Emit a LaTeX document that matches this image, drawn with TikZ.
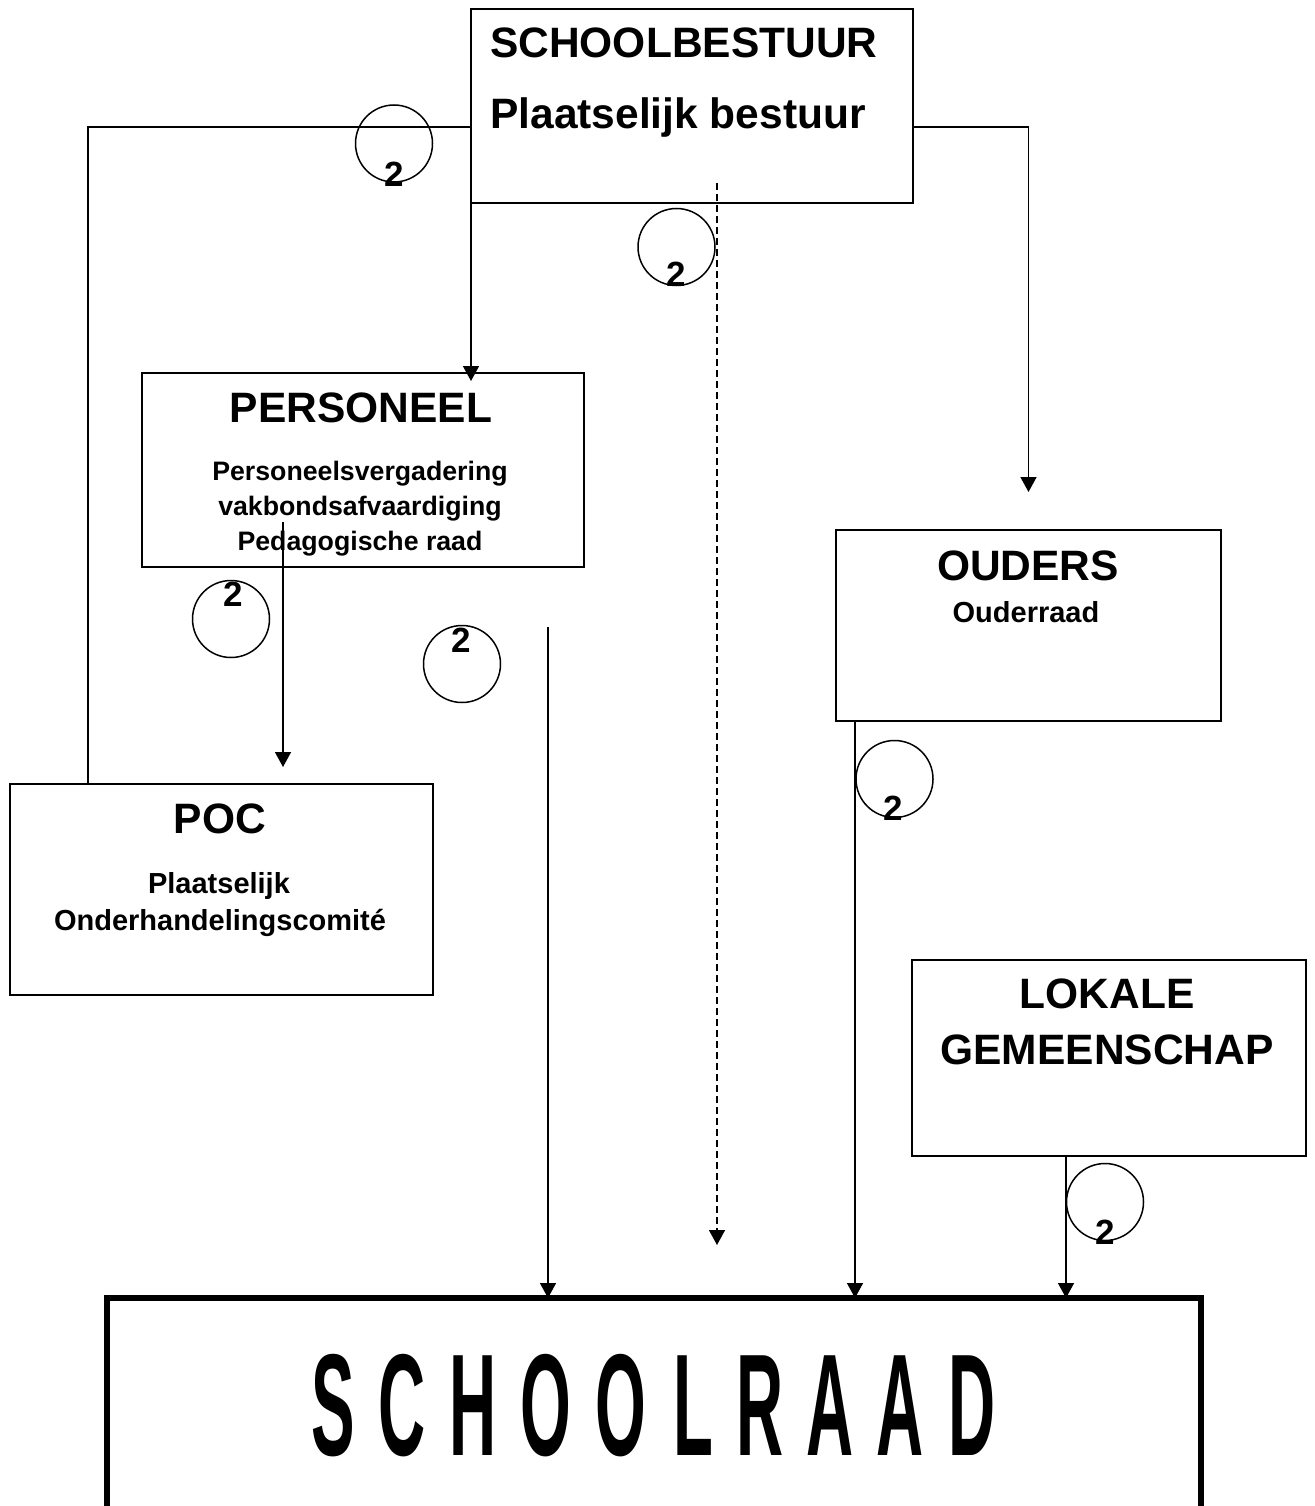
\documentclass[tikz,border=0pt]{standalone}
\usepackage{fontspec}
\setmainfont{Liberation Sans}
\usetikzlibrary{arrows.meta,calc}
\begin{document}
\begin{tikzpicture}[x=1pt,y=-1pt,
  box/.style={draw,line width=1.5pt,rectangle,inner sep=0pt,outer sep=0pt},
  ln/.style={line width=1.5pt},
  arr/.style={line width=1.5pt,-{Triangle[width=16pt,length=15pt]}},
  ring/.style={draw,line width=1.5pt,circle,minimum size=77pt,inner sep=0pt,outer sep=0pt},
  big/.style={font=\fontsize{42.5}{48}\selectfont\bfseries,anchor=base,inner sep=0pt},
  mid/.style={font=\fontsize{29}{33}\selectfont\bfseries,anchor=base,inner sep=0pt},
  sml/.style={font=\fontsize{26.7}{33}\selectfont\bfseries,anchor=base,inner sep=0pt},
  two/.style={font=\fontsize{35}{38}\selectfont\bfseries,anchor=base,inner sep=0pt},
  srl/.style={font=\fontsize{145}{145}\selectfont\bfseries,anchor=base,inner sep=0pt}]
\useasboundingbox (0,0) rectangle (1314,1506);
\clip (0,0) rectangle (1314,1506);
\fill[white] (0,0) rectangle (1314,1506);

% boxes
\node[box,minimum width=442pt,minimum height=194pt] (sb) at (692,106) {};
\node[box,minimum width=442pt,minimum height=194pt] (pers) at (363,470) {};
\node[box,minimum width=385pt,minimum height=191pt] (oud) at (1028.5,625.5) {};
\node[box,minimum width=423pt,minimum height=211pt] (poc) at (221.5,889.5) {};
\node[box,minimum width=394pt,minimum height=196pt] (lok) at (1109,1058) {};
\node[draw,line width=6pt,rectangle,inner sep=0pt,outer sep=0pt,minimum width=1094pt,minimum height=214pt] (sr) at (654,1405) {};

% texts
\node[big,anchor=base west] (t1) at (490,58) {SCHOOLBESTUUR};
\node[big,anchor=base west] (t2) at (490,129) {Plaatselijk bestuur};
\node[big] (t3) at (361,422) {PERSONEEL};
\node[sml] (t4) at (360,480) {Personeelsvergadering};
\node[sml] (t5) at (360,515) {vakbondsafvaardiging};
\node[sml] (t6) at (360,550) {Pedagogische raad};
\node[big] (t7) at (1028,580) {OUDERS};
\node[mid] (t8) at (1026,622) {Ouderraad};
\node[big] (t9) at (220,833) {POC};
\node[mid] (t10) at (219,893) {Plaatselijk};
\node[mid] (t11) at (220,930) {Onderhandelingscomité};
\node[big] (t12) at (1107,1008) {LOKALE};
\node[big] (t13) at (1107,1064) {GEMEENSCHAP};
\foreach \l/\x [count=\i] in {S/333,C/402,H/473,O/546,O/621,L/693,R/760,A/830,A/900,D/972}
  \node[srl] (srl\i) at (\x,1455) {\scalebox{0.45}[1]{\l}};

% connectors
\draw[ln] ([yshift=-21pt]sb.west) -| ([xshift=78pt]poc.north west);
\draw[arr] ([yshift=-21pt]sb.east) -| ([yshift=38pt]oud.north);
\draw[arr] (sb.south west) -- ($(sb.south west |- pers.north)+(0,8)$);
\draw[arr,dash pattern=on 7pt off 4pt] ($(sb.south)+(25,-20)$) -- ($(sr.north)+(63,-53)$);
\draw[arr] ($(pers.center)+(-80,52)$) -- ($(poc.north)+(61.5,-17)$);
\coordinate (p5) at ($(pers.south)+(185,60)$);
\draw[arr] (p5) -- (p5 |- sr.north);
\coordinate (p6) at ($(oud.south west)+(19,0)$);
\draw[arr] (p6) -- (p6 |- sr.north);
\coordinate (p7) at ($(lok.south west)+(154,0)$);
\draw[arr] (p7) -- (p7 |- sr.north);

% circles with 2
\node[ring] (c1) at (394,143.5) {};
\node[two] (n1) at (394,187) {2};
\node[ring] (c2) at (676.5,247) {};
\node[two] (n2) at (676,287) {2};
\node[ring] (c3) at (231,619) {};
\node[two] (n3) at (233,606) {2};
\node[ring] (c4) at (462,664) {};
\node[two] (n4) at (461,652) {2};
\node[ring] (c5) at (894.5,779) {};
\node[two] (n5) at (893,820) {2};
\node[ring] (c6) at (1105,1202) {};
\node[two] (n6) at (1105,1244) {2};
\end{tikzpicture}
\end{document}
